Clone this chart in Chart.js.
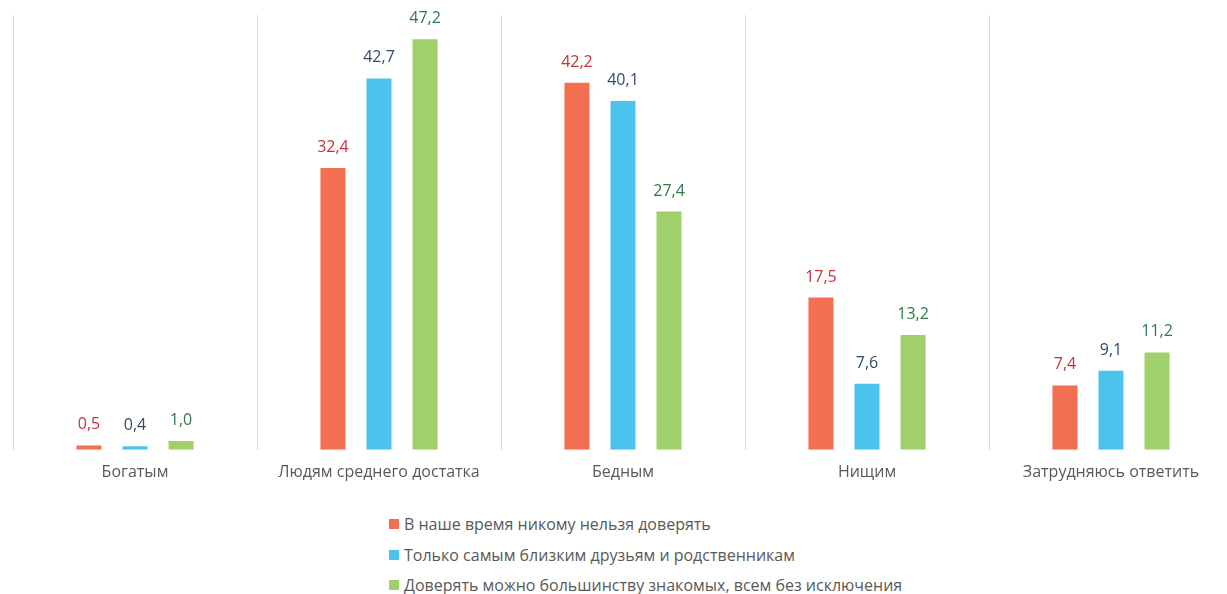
<!DOCTYPE html>
<html>
<head>
<meta charset="utf-8">
<script src="https://cdn.jsdelivr.net/npm/chart.js@4"></script>
<style>
  html, body { margin: 0; padding: 0; background: #fff; overflow: hidden; width: 1227px; height: 594px; }
  #wrap { position: absolute; left: 0; top: 0; width: 1246px; height: 495px; }
  #c { display: block; width: 1246px; height: 495px; }
  #legend { position: absolute; left: 389px; top: 509px; font-family: "Open Sans", "Noto Sans", sans-serif; font-size: 16px; color: #595959; }
  .li { height: 30.5px; display: flex; align-items: center; white-space: nowrap; }
  .sq { width: 10px; height: 10px; margin-right: 5px; }
</style>
</head>
<body>
<div id="wrap"><canvas id="c" width="1246" height="495"></canvas></div>
<div id="legend"></div>
<script>
const categories = ["Богатым", "Людям среднего достатка", "Бедным", "Нищим", "Затрудняюсь ответить"];
const seriesNames = [
  "В наше время никому нельзя доверять",
  "Только самым близким друзьям и родственникам",
  "Доверять можно большинству знакомых, всем без исключения"
];
const nobodyValues = [0.5, 32.4, 42.2, 17.5, 7.4];
const closeValues = [0.4, 42.7, 40.1, 7.6, 9.1];
const mostValues = [1.0, 47.2, 27.4, 13.2, 11.2];
const barColors = ["#f46e52", "#4cc3ec", "#a0d06a"];
const labelColors = ["#c8303a", "#2f4b6e", "#2c7a45"];

const valueLabels = {
  id: "valueLabels",
  afterDatasetsDraw(chart) {
    const ctx = chart.ctx;
    ctx.save();
    ctx.font = '16px "Open Sans", "Noto Sans", sans-serif';
    ctx.textAlign = "center";
    ctx.textBaseline = "alphabetic";
    chart.data.datasets.forEach((ds, di) => {
      const meta = chart.getDatasetMeta(di);
      meta.data.forEach((bar, i) => {
        ctx.fillStyle = labelColors[di];
        ctx.fillText(ds.data[i].toFixed(1).replace(".", ","), bar.x, bar.y - 16);
      });
    });
    ctx.restore();
  }
};

const seriesData = [nobodyValues, closeValues, mostValues];
const chart = new Chart(document.getElementById("c"), {
  type: "bar",
  data: {
    labels: categories,
    datasets: seriesData.map((d, i) => ({
      label: seriesNames[i],
      data: d,
      backgroundColor: barColors[i],
      borderWidth: 0,
      categoryPercentage: 0.566,
      barPercentage: 0.543
    }))
  },
  options: {
    responsive: false,
    animation: false,
    devicePixelRatio: 1,
    layout: { padding: { left: 13, right: 13, top: 15, bottom: 0 } },
    plugins: { legend: { display: false }, tooltip: { enabled: false } },
    scales: {
      x: {
        offset: true,
        grid: { offset: true, display: true, color: "#d9d9d9", lineWidth: 1, drawTicks: false },
        border: { display: false },
        ticks: { color: "#595959", font: { family: '"Open Sans", "Noto Sans", sans-serif', size: 16 }, padding: 13 }
      },
      y: {
        display: false,
        min: 0,
        max: 50
      }
    }
  },
  plugins: [valueLabels]
});

const lg = document.getElementById("legend");
seriesNames.forEach((n, i) => {
  const row = document.createElement("div");
  row.className = "li";
  const sq = document.createElement("div");
  sq.className = "sq";
  sq.style.background = barColors[i];
  const t = document.createElement("span");
  t.textContent = n;
  row.appendChild(sq);
  row.appendChild(t);
  lg.appendChild(row);
});
</script>
</body>
</html>
